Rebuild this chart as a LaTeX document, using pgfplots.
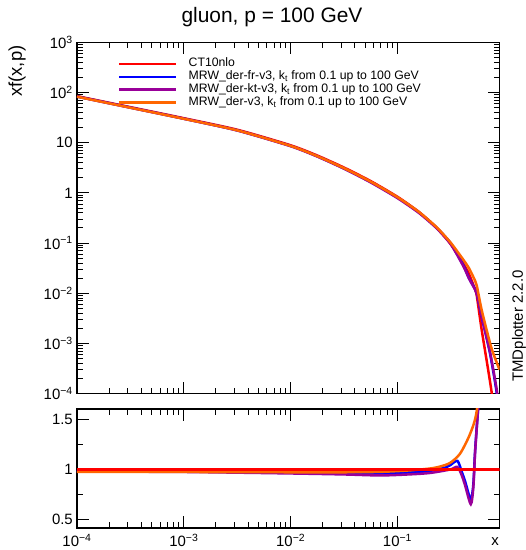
\documentclass[border=0pt]{standalone}
\usepackage{pgfplots}
\pgfplotsset{compat=1.18}
\usepackage{fontspec}
\setmainfont{Liberation Sans}
\definecolor{cred}{RGB}{255,0,0}
\definecolor{cblue}{RGB}{0,0,255}
\definecolor{cpurple}{RGB}{153,0,153}
\definecolor{corange}{RGB}{255,102,0}
\begin{document}
\begin{tikzpicture}[x=1bp,y=1bp]
\useasboundingbox (0,0) rectangle (526,550);
\begin{axis}[
  scale only axis, width=422.5bp,
  axis line style={line width=1.3bp},
  every tick/.style={black, line width=1bp},
  tick align=inside,
  major tick length=12bp, minor tick length=6bp,
  xmode=log, xmin=1e-4, xmax=0.9016,
  xtick={1e-4,1e-3,1e-2,1e-1},
  tick label style={font=\fontsize{15}{17}\selectfont},
  yticklabel style={anchor=east, inner sep=0pt, xshift=-4bp},
  at={(77bp,156.5bp)}, anchor=south west, height=351bp,
  ymode=log, ymin=1e-4, ymax=1e3,
  ytick={1e-4,1e-3,1e-2,1e-1,1,10,100,1000},
  yticklabels={10\textsuperscript{−4},10\textsuperscript{−3},10\textsuperscript{−2},10\textsuperscript{−1},1,10,10\textsuperscript{2},10\textsuperscript{3}},
  xticklabels={},
  legend style={draw=none, fill=none, at={(0.097,0.958)}, anchor=north west,
    font=\fontsize{12.3}{13}\selectfont, inner sep=0pt, column sep=11bp, row sep=0pt,
    nodes={inner sep=0pt, text height=9.5bp, text depth=3.4bp}},
  legend cell align=left,
  legend image code/.code={\draw[#1, line width=2.5bp] (0bp,0bp) -- (57bp,0bp);},
]
\addplot[cred, line width=2.5bp, no marks, smooth, tension=0.4] coordinates {(1e-4,85.1)(3.162e-4,51.3)(1e-3,30.9)(3.162e-3,18.2)(0.01,8.91)(0.01778,5.56)(0.03162,3.20)(0.05623,1.718)(0.1,0.836)(0.1585,0.419)(0.2333,0.201)(0.3162,0.0940)(0.414,0.0386)(0.4677,0.0240)(0.5333,0.01175)(0.5534,0.00871)(0.6152,0.00181)(0.7638,1e-4)(0.8511,1e-5)};
\addlegendentry{CT10nlo}
\addplot[cblue, line width=2.5bp, no marks, smooth, tension=0.4] coordinates {(1e-4,83.8)(3.162e-4,50.4)(1e-3,30.3)(3.162e-3,17.7)(0.01,8.64)(0.01778,5.37)(0.03162,3.07)(0.05623,1.649)(0.1,0.807)(0.1585,0.410)(0.2333,0.201)(0.3162,0.0982)(0.414,0.0359)(0.4677,0.0200)(0.5333,0.0120)(0.5534,0.0098)(0.6152,0.00333)(0.7362,6.19e-4)(0.8511,1e-4)(0.88,4e-5)};
\addlegendentry{MRW\_der-fr-v3, k\textsubscript{t} from 0.1 up to 100 GeV}
\addplot[cpurple, line width=2.5bp, no marks, smooth, tension=0.4] coordinates {(1e-4,83.4)(3.162e-4,50.1)(1e-3,30.1)(3.162e-3,17.6)(0.01,8.55)(0.01778,5.31)(0.03162,3.04)(0.05623,1.618)(0.1,0.788)(0.1585,0.400)(0.2333,0.196)(0.3162,0.0940)(0.414,0.0344)(0.4677,0.0195)(0.5333,0.0118)(0.5534,0.0097)(0.6152,0.0034)(0.7362,6.6e-4)(0.8511,1.15e-4)(0.88,5e-5)};
\addlegendentry{MRW\_der-kt-v3, k\textsubscript{t} from 0.1 up to 100 GeV}
\addplot[corange, line width=2.5bp, no marks, smooth, tension=0.4] coordinates {(1e-4,83.0)(3.162e-4,50.0)(1e-3,30.1)(3.162e-3,17.7)(0.01,8.66)(0.01778,5.40)(0.03162,3.11)(0.05623,1.675)(0.1,0.821)(0.1585,0.418)(0.2333,0.205)(0.3162,0.1006)(0.414,0.0463)(0.4677,0.0314)(0.5333,0.01763)(0.5534,0.01394)(0.6152,0.00454)(0.7362,0.001)(0.7907,6.17e-4)(0.881,3.39e-4)(0.9016,3.0e-4)};
\addlegendentry{MRW\_der-v3, k\textsubscript{t} from 0.1 up to 100 GeV}
\end{axis}
\begin{axis}[
  scale only axis, width=422.5bp,
  axis line style={line width=1.3bp},
  every tick/.style={black, line width=1bp},
  tick align=inside,
  major tick length=12bp, minor tick length=6bp,
  xmode=log, xmin=1e-4, xmax=0.9016,
  xtick={1e-4,1e-3,1e-2,1e-1},
  tick label style={font=\fontsize{15}{17}\selectfont},
  yticklabel style={anchor=east, inner sep=0pt, xshift=-4bp},
  xticklabel style={anchor=north, inner sep=0pt, yshift=-6bp},
  at={(77bp,22bp)}, anchor=south west, height=119bp,
  ymin=0.41, ymax=1.61,
  ytick={0.5,1,1.5}, yticklabels={0.5,1,1.5},
  minor ytick={0.75,1.25},
  xticklabels={10\textsuperscript{−4},10\textsuperscript{−3},10\textsuperscript{−2},10\textsuperscript{−1}},
]
\addplot[cblue, line width=2.5bp, no marks, smooth, tension=0.45] coordinates {(1e-4,0.985)(1e-3,0.98)(0.01,0.97)(0.03162,0.96)(0.0687,0.96)(0.1259,0.97)(0.2018,0.986)(0.2818,1.02)(0.3112,1.043)(0.3639,1.087)(0.3999,0.976)(0.4295,0.88)(0.4853,0.697)(0.5129,0.85)(0.5333,1.195)(0.5728,1.66)(0.631,2.2)};
\addplot[cpurple, line width=2.5bp, no marks, smooth, tension=0.45] coordinates {(1e-4,0.98)(1e-3,0.975)(0.01,0.96)(0.03162,0.95)(0.0687,0.94)(0.1259,0.95)(0.2018,0.965)(0.3112,1.0)(0.3639,1.026)(0.3999,0.94)(0.4295,0.84)(0.4853,0.65)(0.5129,0.82)(0.5333,1.18)(0.5728,1.65)(0.631,2.2)};
\addplot[corange, line width=2.5bp, no marks, smooth, tension=0.45] coordinates {(1e-4,0.975)(1e-3,0.975)(0.01,0.972)(0.03162,0.972)(0.0687,0.976)(0.1259,0.99)(0.2018,1.01)(0.2512,1.03)(0.3112,1.067)(0.3855,1.16)(0.4786,1.36)(0.5534,1.6)(0.631,2.3)};
\addplot[cred, line width=2.5bp, no marks] coordinates {(1e-4,1)(0.9016,1)};
\end{axis}
\node[font=\fontsize{21}{24}\selectfont] at (272,533) {gluon, p = 100 GeV};
\node[rotate=90, anchor=east, font=\fontsize{18.5}{21}\selectfont] at (17,508) {xf(x,p)};
\node[rotate=90, font=\fontsize{15}{17}\selectfont] at (519,224) {TMDplotter 2.2.0};
\node[font=\fontsize{15}{17}\selectfont] at (495,8) {x};
\end{tikzpicture}
\end{document}
